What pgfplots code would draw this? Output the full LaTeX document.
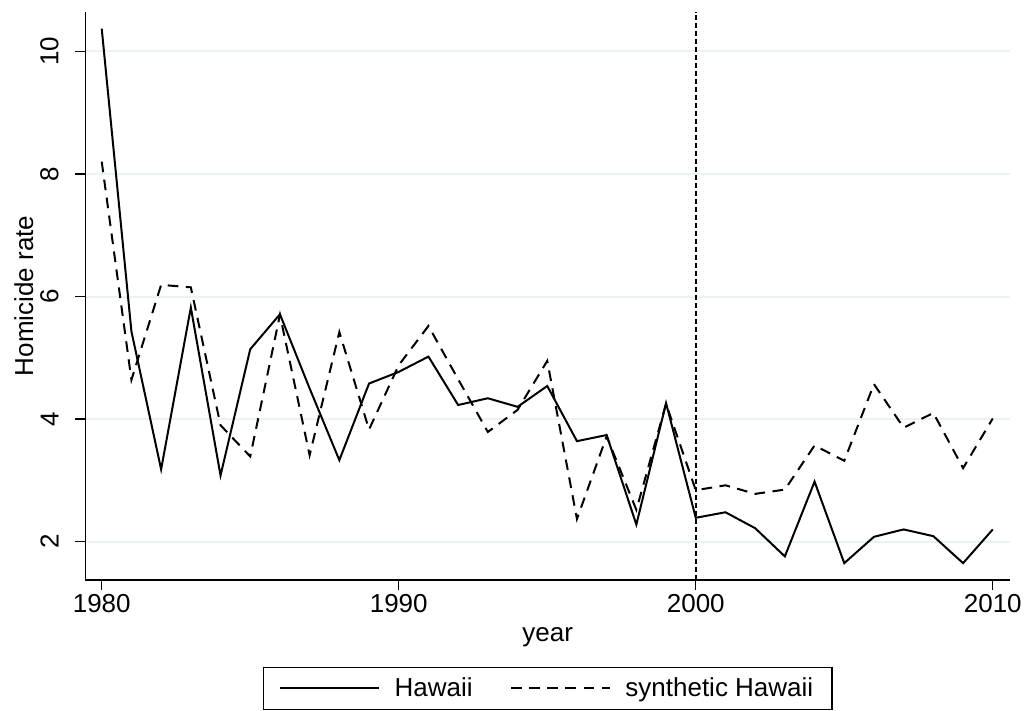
\documentclass[border=0pt]{standalone}
\usepackage{fontspec}
\setmainfont{Liberation Sans}
\usepackage{pgfplots}
\usepackage{pgfplotstable}
\pgfplotsset{compat=1.18}
\definecolor{gridc}{RGB}{234,242,243}
\newcommand{\lblfont}{\fontsize{19.5pt}{23pt}\selectfont}

% Homicide rate, Hawaii and its synthetic control
\pgfplotstableread{
year hawaii synth
1980 10.37 8.20
1981 5.43 4.64
1982 3.18 6.19
1983 5.82 6.15
1984 3.08 3.90
1985 5.14 3.39
1986 5.71 5.70
1987 4.50 3.41
1988 3.33 5.42
1989 4.58 3.83
1990 4.77 4.88
1991 5.02 5.52
1992 4.23 4.65
1993 4.34 3.79
1994 4.20 4.15
1995 4.54 4.95
1996 3.64 2.37
1997 3.74 3.72
1998 2.28 2.52
1999 4.26 4.25
2000 2.39 2.84
2001 2.48 2.92
2002 2.22 2.78
2003 1.76 2.85
2004 2.98 3.57
2005 1.65 3.32
2006 2.08 4.57
2007 2.20 3.86
2008 2.09 4.10
2009 1.65 3.20
2010 2.20 4.01
}\homicide

\begin{document}
\begin{tikzpicture}
\begin{axis}[
  scale only axis,
  width=693.5pt, height=426.2pt,
  xmin=1979.448, xmax=2010.58,
  ymin=1.375, ymax=10.646,
  axis x line*=bottom, axis y line*=left,
  axis line style={line width=1pt, -},
  xtick={1980,1990,2000,2010},
  ytick={2,4,6,8,10},
  tick align=outside,
  major tick length=7.5pt,
  tick style={line width=1pt, black},
  ymajorgrids,
  grid style={gridc, line width=1.5pt},
  /pgf/number format/assume math mode=true,
  /pgf/number format/1000 sep={},
  ticklabel style={font=\lblfont},
  yticklabel style={rotate=90, anchor=south},
  yticklabel shift=9pt,
  xlabel={year},
  ylabel={Homicide rate},
  label style={font=\lblfont},
  xlabel style={at={(axis description cs:0.5,-0.1)}, anchor=center},
  ylabel style={at={(axis description cs:-0.0665,0.5)}, anchor=center},
  legend columns=2,
  legend style={
    at={(axis description cs:0.5,-0.1526)}, anchor=north,
    draw=black, line width=1pt, font=\lblfont,
    inner xsep=12pt, inner ysep=6pt,
    /tikz/every odd column/.append style={column sep=9pt},
    /tikz/every even column/.append style={column sep=26pt},
  },
  legend image code/.code={\draw[#1] (0pt,0pt) -- (74pt,0pt);},
]
\addplot[black, line width=1.5pt] table[x=year, y=hawaii] {\homicide};
\addlegendentry{Hawaii}
\addplot[black, line width=1.5pt, dash pattern=on 8pt off 5.6pt] table[x=year, y=synth] {\homicide};
\addlegendentry{synthetic Hawaii}
% treatment year
\addplot[black, line width=1.5pt, dash pattern=on 3.5pt off 2.5pt, forget plot]
  coordinates {(2000,1.375) (2000,10.646)};
\end{axis}
\pgfresetboundingbox
\path (-64pt,-98.25pt) rectangle (705.5pt,435pt);
\end{tikzpicture}
\end{document}
